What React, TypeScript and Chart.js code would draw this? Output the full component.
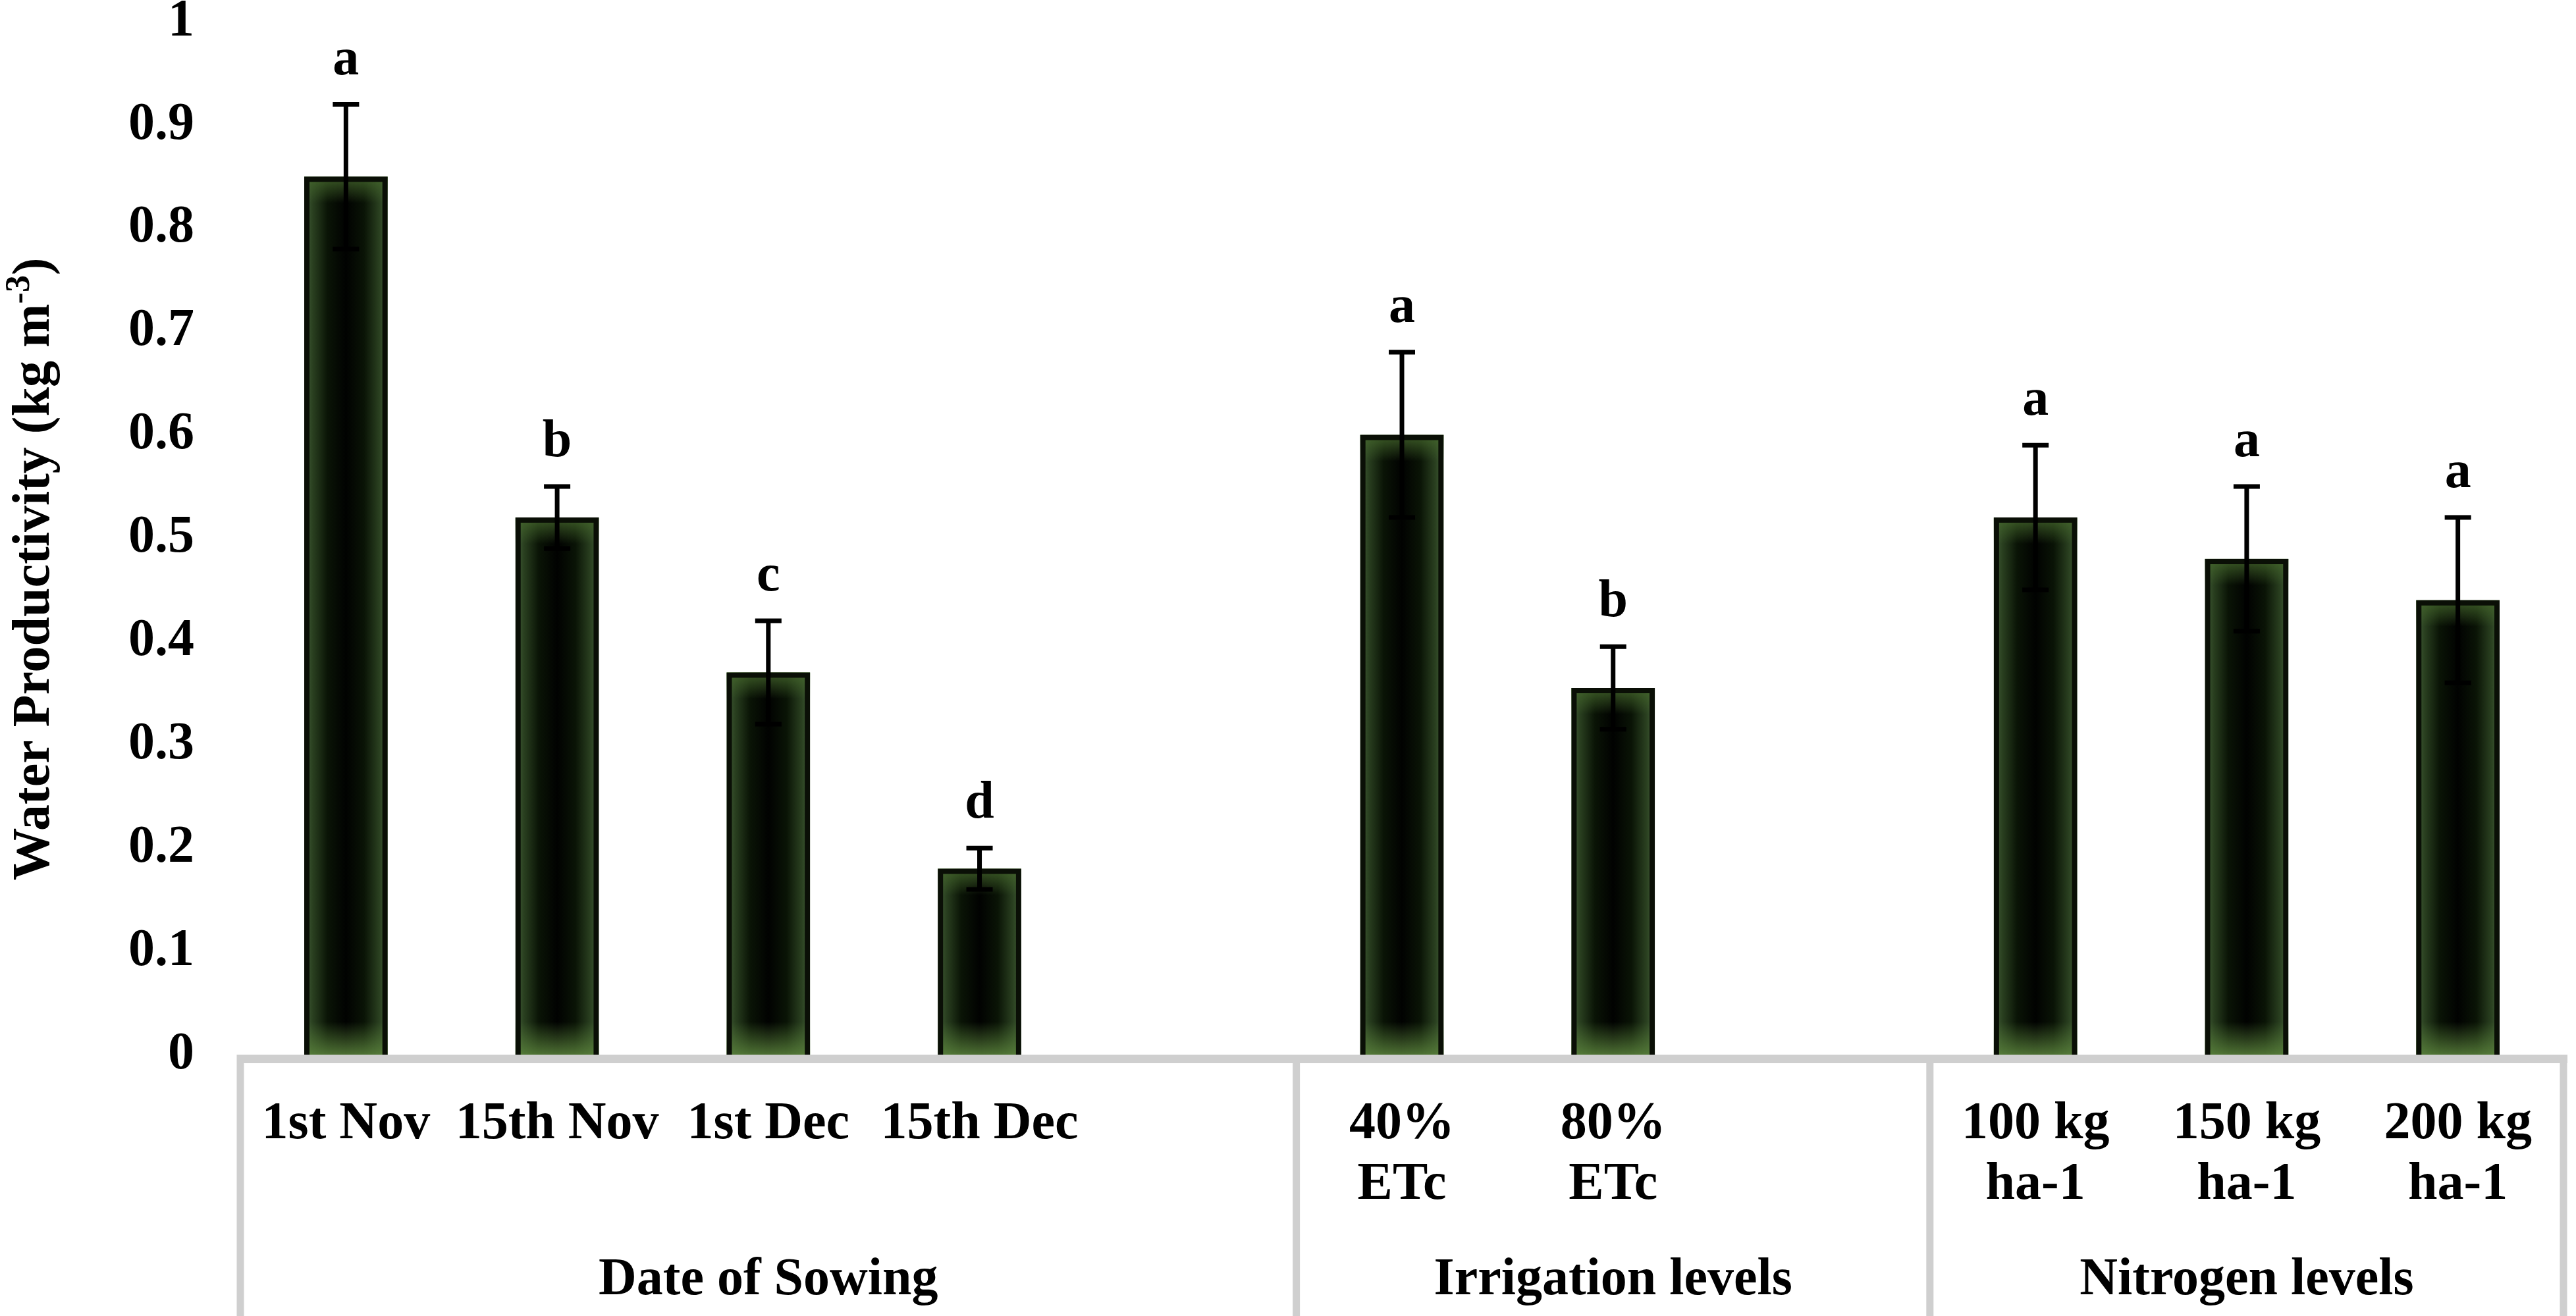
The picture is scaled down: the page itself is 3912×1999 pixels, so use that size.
import React, { useEffect, useRef } from 'react';
import { Chart, registerables } from 'chart.js';

Chart.register(...registerables);

// ---- data ----
const categories: string[][] = [
  ['1st Nov'],
  ['15th Nov'],
  ['1st Dec'],
  ['15th Dec'],
  [''],
  ['40%', 'ETc'],
  ['80%', 'ETc'],
  [''],
  ['100 kg', 'ha-1'],
  ['150 kg', 'ha-1'],
  ['200 kg', 'ha-1'],
];
const means: (number | null)[] = [0.85, 0.52, 0.37, 0.18, null, 0.6, 0.355, null, 0.52, 0.48, 0.44];
const errors: (number | null)[] = [0.07, 0.03, 0.05, 0.02, null, 0.08, 0.04, null, 0.07, 0.07, 0.08];
const letters: string[] = ['a', 'b', 'c', 'd', '', 'a', 'b', '', 'a', 'a', 'a'];
const groupLabels: string[] = ['Date of Sowing', 'Irrigation levels', 'Nitrogen levels'];
const groupSpans: number[] = [5, 3, 3];
const yMin = 0;
const yMax = 1;
const yStep = 0.1;
const yTitleMain = 'Water Productivity (kg m';
const yTitleSup = '-3';
const yTitleEnd = ')';

const FONT = "'Liberation Serif', 'Times New Roman', serif";
const GREY = '#cfcfcf';

export default function App() {
  const ref = useRef<HTMLCanvasElement>(null);

  useEffect(() => {
    document.body.style.margin = '0';
    const canvas = ref.current!;

    const overlay = {
      id: 'overlay',
      beforeDatasetsDraw(chart: any) {
        const ctx = chart.ctx;
        const meta = chart.getDatasetMeta(0);
        meta.data.forEach((el: any, i: number) => {
          if (means[i] == null) return;
          const p = el.getProps(['x', 'y', 'base', 'width'], true);
          const left = p.x - p.width / 2;
          const top = p.y;
          const h = p.base - p.y;
          ctx.save();
          const hg = ctx.createLinearGradient(left, 0, left + p.width, 0);
          hg.addColorStop(0, '#44603a');
          hg.addColorStop(0.1, '#2a4020');
          hg.addColorStop(0.28, '#0a1406');
          hg.addColorStop(0.5, '#010201');
          hg.addColorStop(0.72, '#0a1406');
          hg.addColorStop(0.9, '#2a4020');
          hg.addColorStop(1, '#44603a');
          ctx.fillStyle = hg;
          ctx.fillRect(left, top, p.width, h);
          const tg = ctx.createLinearGradient(0, top, 0, top + 40);
          tg.addColorStop(0, 'rgba(70,105,45,0.85)');
          tg.addColorStop(1, 'rgba(70,105,45,0)');
          ctx.fillStyle = tg;
          ctx.fillRect(left, top, p.width, Math.min(40, h));
          const bg = ctx.createLinearGradient(0, p.base - 50, 0, p.base);
          bg.addColorStop(0, 'rgba(90,130,60,0)');
          bg.addColorStop(1, 'rgba(90,130,60,0.85)');
          ctx.fillStyle = bg;
          ctx.fillRect(left, p.base - 50, p.width, 50);
          ctx.restore();
        });
      },
      afterDatasetsDraw(chart: any) {
        const ctx = chart.ctx;
        const y = chart.scales.y;
        const meta = chart.getDatasetMeta(0);
        ctx.save();
        ctx.strokeStyle = '#000';
        ctx.lineWidth = 7;
        ctx.lineCap = 'butt';
        meta.data.forEach((el: any, i: number) => {
          const m = means[i];
          const e = errors[i];
          if (m == null || e == null) return;
          const x = el.x;
          const yt = y.getPixelForValue(m + e);
          const yb = y.getPixelForValue(m - e);
          ctx.beginPath();
          ctx.moveTo(x, yt);
          ctx.lineTo(x, yb);
          ctx.moveTo(x - 20, yt);
          ctx.lineTo(x + 20, yt);
          ctx.moveTo(x - 20, yb);
          ctx.lineTo(x + 20, yb);
          ctx.stroke();
          if (letters[i]) {
            ctx.fillStyle = '#000';
            ctx.font = `bold 80px ${FONT}`;
            ctx.textAlign = 'center';
            ctx.textBaseline = 'alphabetic';
            ctx.fillText(letters[i], x, yt - 46);
          }
        });
        ctx.restore();
      },
      afterDraw(chart: any) {
        const ctx = chart.ctx;
        const xs = chart.scales.x;
        const area = chart.chartArea;
        const H = chart.height;
        const half = (xs.getPixelForValue(1) - xs.getPixelForValue(0)) / 2;
        ctx.save();
        // axis line
        ctx.fillStyle = GREY;
        ctx.fillRect(area.left - 5, area.bottom, area.right - area.left + 11, 13);
        // vertical separators
        const bounds: number[] = [xs.getPixelForValue(0) - half];
        let acc = 0;
        groupSpans.forEach((s) => {
          acc += s;
          bounds.push(xs.getPixelForValue(acc - 1) + half);
        });
        bounds.forEach((bx) => {
          ctx.fillRect(bx - 5.5, area.bottom, 11, H - area.bottom);
        });
        // group labels
        ctx.fillStyle = '#000';
        ctx.font = `bold 80px ${FONT}`;
        ctx.textAlign = 'center';
        ctx.textBaseline = 'alphabetic';
        groupLabels.forEach((g, k) => {
          const cx = (bounds[k] + bounds[k + 1]) / 2;
          ctx.fillText(g, cx, 1966);
        });
        // y title
        const cy = (area.top + area.bottom) / 2 + 47;
        ctx.translate(74, cy);
        ctx.rotate(-Math.PI / 2);
        ctx.font = `bold 80px ${FONT}`;
        const w1 = ctx.measureText(yTitleMain).width;
        ctx.font = `bold 52px ${FONT}`;
        const w2 = ctx.measureText(yTitleSup).width;
        ctx.font = `bold 80px ${FONT}`;
        const w3 = ctx.measureText(yTitleEnd).width;
        const total = w1 + w2 + w3;
        let sx = -total / 2;
        ctx.textAlign = 'left';
        ctx.fillText(yTitleMain, sx, 0);
        sx += w1;
        ctx.font = `bold 52px ${FONT}`;
        ctx.fillText(yTitleSup, sx, -30);
        sx += w2;
        ctx.font = `bold 80px ${FONT}`;
        ctx.fillText(yTitleEnd, sx, 0);
        ctx.restore();
      },
    };

    const chart = new Chart(canvas, {
      type: 'bar',
      data: {
        labels: categories as any,
        datasets: [
          {
            data: means as any,
            backgroundColor: 'rgba(0,0,0,0)',
            borderColor: '#0a0f06',
            borderWidth: 8,
            barPercentage: 0.395,
            categoryPercentage: 1,
          },
        ],
      },
      options: {
        animation: false,
        responsive: true,
        maintainAspectRatio: false,
        devicePixelRatio: 1,
        layout: { padding: { left: 0, right: 19, top: 33, bottom: 0 } },
        plugins: {
          legend: { display: false },
          tooltip: { enabled: false },
          title: { display: false },
        },
        scales: {
          x: {
            grid: { display: false, drawTicks: false },
            border: { display: false },
            ticks: {
              autoSkip: false,
              maxRotation: 0,
              minRotation: 0,
              padding: 60,
              color: '#000',
              font: { family: FONT, size: 80, weight: 'bold', lineHeight: 1.15 },
            },
            afterFit: (s: any) => {
              s.height = 397;
            },
          },
          y: {
            min: yMin,
            max: yMax,
            grid: { display: false, drawTicks: false },
            border: { display: false },
            ticks: {
              stepSize: yStep,
              padding: 70,
              color: '#000',
              font: { family: FONT, size: 80, weight: 'bold', lineHeight: 0.8 },
              callback: (v: any) => String(Number(Number(v).toFixed(2))),
            },
            afterFit: (s: any) => {
              s.width = 365;
              s.paddingTop = 0;
              s.paddingBottom = 0;
            },
          },
        },
      },
      plugins: [overlay],
    });

    return () => chart.destroy();
  }, []);

  return (
    <div style={{ width: 3912, height: 1999, position: 'relative' }}>
      <canvas ref={ref} />
    </div>
  );
}
